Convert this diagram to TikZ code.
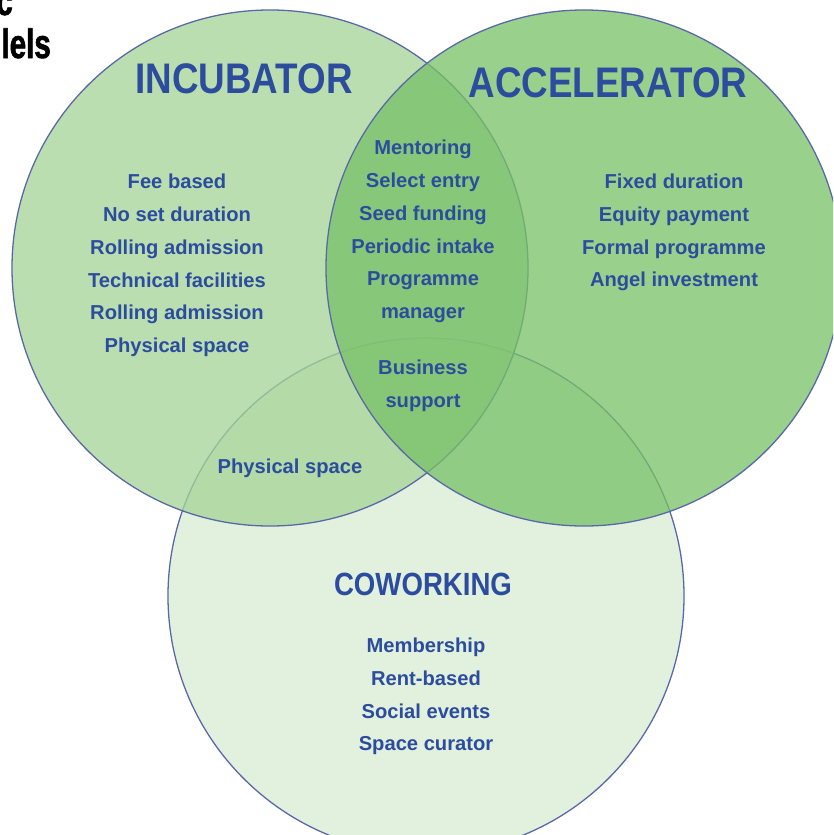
\documentclass[tikz,border=0pt]{standalone}
\usepackage{fontspec}
\setmainfont{Liberation Sans}
\newfontfamily\headfont{Liberation Sans}[FakeStretch=0.86]
\newfontfamily\cornerfont{Liberation Sans}[FakeStretch=0.72,FakeBold=1.5]
\definecolor{vnblue}{RGB}{44,76,158}
\definecolor{vnline}{RGB}{88,104,168}
\definecolor{vninc}{RGB}{166,212,151}
\definecolor{vnacc}{RGB}{120,193,104}
\definecolor{vncow}{RGB}{217,235,212}
\tikzset{
  venn/.style={circle,draw=vnline,line width=1.1pt,fill opacity=0.76,minimum size=15.48cm,inner sep=0pt},
  head/.style={text=vnblue,inner sep=0pt,font=\headfont\bfseries\fontsize{36.5}{40}\selectfont},
  subhead/.style={text=vnblue,inner sep=0pt,font=\headfont\bfseries\fontsize{27.4}{30}\selectfont},
  item/.style={text=vnblue,align=center,inner sep=0pt,font=\bfseries\fontsize{17.2}{28}\selectfont},
  corner/.style={text=black,inner sep=0pt,font=\cornerfont\bfseries\fontsize{35}{40}\selectfont},
}

\begin{document}
\begin{tikzpicture}[x=0.03cm,y=-0.03cm]
  \useasboundingbox (0,0) rectangle (833,835);
  \clip (0,0) rectangle (833,835);

  % the three sets, back to front
  \node[venn,fill=vncow] (cowork) at (426,596) {};
  \node[venn,fill=vninc] (incub) at (270,268) {};
  \node[venn,fill=vnacc] (accel) at (584,268) {};

  \node[head] (incubhead) at (244,79) {INCUBATOR};
  \node[head] (accelhead) at (608,83) {ACCELERATOR};
  \node[subhead] (coworkhead) at (423,584) {COWORKING};

  \node[item] (incubitems) at (177,265.5) {Fee based\\No set duration\\Rolling admission\\Technical facilities\\Rolling admission\\Physical space};
  \node[item] (accelitems) at (674,232.5) {Fixed duration\\Equity payment\\Formal programme\\Angel investment};
  \node[item] (coworkitems) at (426,696.5) {Membership\\Rent-based\\Social events\\Space curator};
  \node[item] (bothitems) at (423,231.5) {Mentoring\\Select entry\\Seed funding\\Periodic intake\\Programme\\manager};
  \node[item] (allitems) at (423,386) {Business\\support};
  \node[item] (sharedspace) at (290,468) {Physical space};

  % heading running off the top left edge
  \node[corner,anchor=base east] (cornerhead) at (13,15) {c};
  \node[corner,anchor=base east] (cornertail) at (51,58) {lels};
\end{tikzpicture}
\end{document}
